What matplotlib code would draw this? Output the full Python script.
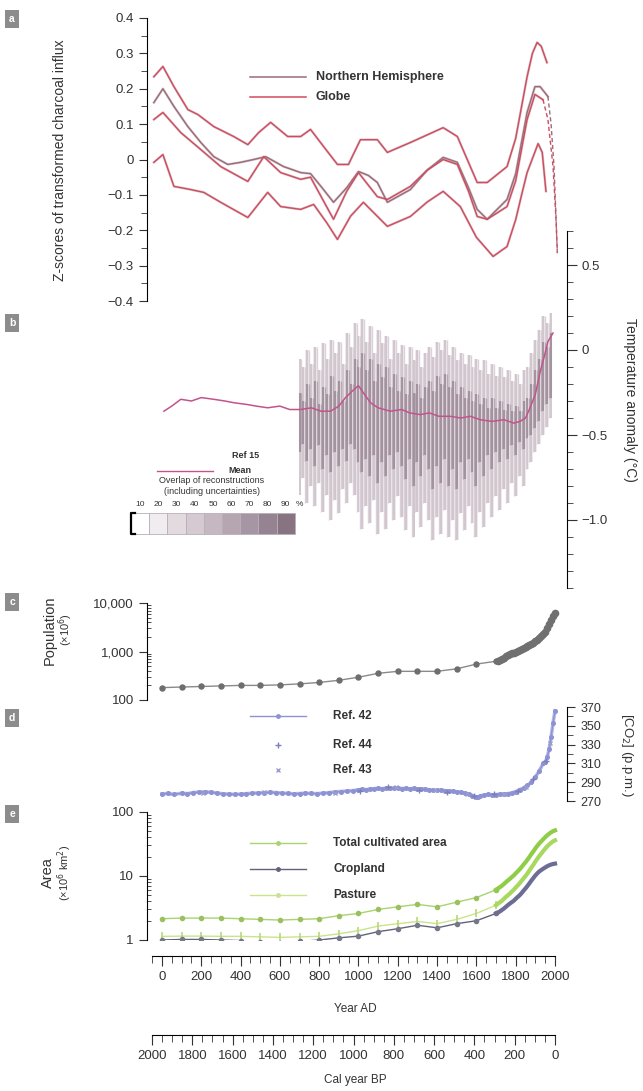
import numpy as np
import matplotlib
matplotlib.use("Agg")
import matplotlib.pyplot as plt
from matplotlib.lines import Line2D
from matplotlib.patches import Rectangle
from matplotlib.ticker import FixedLocator, FuncFormatter, LogLocator, NullFormatter, MultipleLocator

plt.rcParams["font.family"] = ["Liberation Sans Narrow", "Liberation Sans", "DejaVu Sans"]
plt.rcParams["axes.unicode_minus"] = True

W, H = 643, 1091
INK = "#333333"
RED, MAUVE = "#d4495c", "#9c6a78"
PINK = "#c2548c"
BLUE = "#8d92d4"
GREEN, LIME, SLATE = "#a9d46e", "#c9e48c", "#62627a"

# ---- a: charcoal influx z-scores ----
glob_hi_yr = [-41, 5, 61, 132, 183, 264, 365, 437, 492, 553, 640, 706, 756, 822, 893, 949, 1010, 1096,
              1147, 1264, 1431, 1503, 1604, 1655, 1756, 1800, 1830, 1858, 1885, 1909, 1930, 1959]
glob_hi = [0.234, 0.263, 0.206, 0.141, 0.127, 0.093, 0.065, 0.042, 0.076, 0.105, 0.065, 0.065, 0.085,
           0.037, -0.014, -0.014, 0.056, 0.056, 0.020, 0.048, 0.090, 0.065, -0.065, -0.065, -0.020,
           0.060, 0.150, 0.234, 0.300, 0.331, 0.320, 0.274]
nh_yr = [-41, 5, 61, 132, 198, 264, 335, 401, 467, 528, 619, 706, 756, 815, 873, 940, 1000, 1050, 1096,
         1147, 1264, 1350, 1431, 1503, 1560, 1604, 1655, 1756, 1800, 1830, 1858, 1898, 1924, 1964]
nh = [0.161, 0.200, 0.150, 0.093, 0.048, 0.008, -0.014, -0.008, 0.000, 0.008, -0.020, -0.037, -0.040,
      -0.080, -0.121, -0.080, -0.034, -0.045, -0.065, -0.121, -0.085, -0.030, 0.006, -0.008, -0.080,
      -0.141, -0.169, -0.113, -0.040, 0.050, 0.133, 0.206, 0.206, 0.178]
nh_tail_yr = [1964, 1980, 1995, 2005, 2012]
nh_tail = [0.178, 0.10, -0.02, -0.16, -0.27]
glob_yr = [-41, 5, 96, 198, 299, 437, 518, 604, 706, 756, 815, 873, 940, 1000, 1096, 1147, 1264, 1350,
           1431, 1503, 1560, 1604, 1655, 1756, 1800, 1830, 1858, 1898, 1939]
glob = [0.113, 0.133, 0.076, 0.028, -0.020, -0.062, 0.008, -0.037, -0.056, -0.050, -0.110, -0.169,
        -0.090, -0.037, -0.105, -0.113, -0.076, -0.030, 0.000, -0.014, -0.090, -0.161, -0.169, -0.133,
        -0.060, 0.030, 0.113, 0.184, 0.169]
glob_tail_yr = [1939, 1964, 1990, 2005, 2012]
glob_tail = [0.169, 0.113, -0.02, -0.17, -0.263]
glob_lo_yr = [-41, 5, 61, 147, 213, 299, 437, 538, 604, 706, 772, 840, 893, 960, 1025, 1147, 1264, 1350,
              1431, 1518, 1600, 1685, 1756, 1800, 1830, 1858, 1914, 1935, 1954]
glob_lo = [-0.008, 0.014, -0.076, -0.085, -0.093, -0.121, -0.164, -0.093, -0.133, -0.141, -0.127,
           -0.180, -0.226, -0.160, -0.121, -0.189, -0.161, -0.120, -0.090, -0.133, -0.220, -0.274,
           -0.246, -0.170, -0.100, -0.037, 0.045, 0.020, -0.090]

# ---- b: temperature anomaly ----
mean_yr = [10, 50, 96, 150, 200, 264, 320, 365, 430, 480, 538, 600, 650, 706, 760, 810, 858, 900, 934,
           970, 1000, 1030, 1061, 1100, 1162, 1220, 1260, 1315, 1360, 1410, 1467, 1520, 1570, 1619, 1680,
           1740, 1790, 1822, 1850, 1873, 1900, 1924, 1945, 1964, 1990]
mean_t = [-0.36, -0.33, -0.29, -0.30, -0.28, -0.29, -0.30, -0.31, -0.32, -0.33, -0.34, -0.33, -0.35,
          -0.35, -0.34, -0.36, -0.36, -0.33, -0.28, -0.24, -0.21, -0.26, -0.31, -0.34, -0.36, -0.35,
          -0.37, -0.38, -0.37, -0.39, -0.39, -0.40, -0.39, -0.41, -0.42, -0.41, -0.43, -0.42, -0.40,
          -0.34, -0.26, -0.13, -0.04, 0.05, 0.10]
ov_yr = list(range(700, 1981, 20))
ov_hi10 = [-0.05, -0.10, 0.00, -0.08, 0.02, -0.12, 0.04, -0.05, 0.06, -0.02, 0.05, -0.08, 0.10, 0.02,
           0.16, 0.08, 0.18, 0.05, 0.14, -0.02, 0.12, 0.04, 0.08, -0.05, 0.06, -0.02, 0.03, -0.08, 0.02,
           -0.06, 0.00, -0.10, -0.02, 0.02, -0.04, 0.05, 0.00, 0.06, -0.03, 0.02, -0.06, -0.02, -0.08,
           -0.03, -0.10, -0.05, -0.12, -0.06, -0.14, -0.08, -0.15, -0.10, -0.16, -0.12, -0.18, -0.14,
           -0.20, -0.12, -0.10, -0.02, 0.06, 0.12, 0.20, 0.16, 0.22]
ov_lo10 = [-0.85, -0.75, -0.90, -0.80, -0.92, -0.78, -0.95, -0.85, -1.00, -0.88, -0.96, -0.82, -0.90,
           -0.78, -0.85, -0.95, -1.05, -0.92, -1.02, -0.88, -1.08, -0.95, -1.05, -0.90, -1.00, -0.86,
           -0.98, -1.06, -0.92, -1.10, -0.95, -1.04, -0.90, -1.00, -1.12, -0.98, -1.08, -0.94, -1.10,
           -1.00, -1.12, -0.96, -1.06, -0.92, -1.02, -1.10, -0.95, -1.04, -0.90, -0.98, -0.86, -0.94,
           -0.82, -0.90, -0.78, -0.86, -0.74, -0.80, -0.70, -0.66, -0.60, -0.55, -0.50, -0.45, -0.40]
ov_hi50 = [-0.25, -0.30, -0.20, -0.28, -0.18, -0.32, -0.22, -0.26, -0.15, -0.24, -0.18, -0.30, -0.12,
           -0.20, -0.05, -0.10, -0.02, -0.12, -0.05, -0.18, -0.08, -0.16, -0.10, -0.22, -0.14, -0.24,
           -0.16, -0.26, -0.18, -0.25, -0.20, -0.28, -0.22, -0.18, -0.24, -0.15, -0.20, -0.14, -0.22,
           -0.18, -0.26, -0.22, -0.28, -0.24, -0.30, -0.26, -0.32, -0.28, -0.34, -0.28, -0.34, -0.30,
           -0.35, -0.32, -0.36, -0.33, -0.36, -0.30, -0.28, -0.20, -0.12, -0.05, 0.05, 0.02, 0.10]
ov_lo50 = [-0.60, -0.55, -0.65, -0.58, -0.68, -0.56, -0.70, -0.62, -0.72, -0.60, -0.68, -0.58, -0.65,
           -0.55, -0.58, -0.66, -0.72, -0.64, -0.74, -0.62, -0.78, -0.66, -0.74, -0.62, -0.70, -0.60,
           -0.68, -0.76, -0.64, -0.80, -0.66, -0.74, -0.62, -0.70, -0.82, -0.68, -0.78, -0.64, -0.80,
           -0.70, -0.82, -0.66, -0.76, -0.64, -0.72, -0.80, -0.66, -0.74, -0.62, -0.70, -0.60, -0.66,
           -0.58, -0.64, -0.56, -0.62, -0.54, -0.58, -0.52, -0.50, -0.46, -0.42, -0.36, -0.32, -0.28]
overlap_pct = [10, 20, 30, 40, 50, 60, 70, 80, 90]
overlap_col = ["#ffffff", "#f1ecef", "#e3dae0", "#d5cad2", "#c6b8c2", "#b6a6b2", "#a695a2",
               "#968391", "#877381"]

# ---- c: population (millions) ----
pop_yr = [0, 100, 200, 300, 400, 500, 600, 700, 800, 900, 1000, 1100, 1200, 1300, 1400, 1500, 1600, 1700]
pop = [180, 185, 190, 195, 200, 200, 205, 215, 230, 255, 295, 355, 390, 390, 390, 440, 550, 630]
pop_recent_yr = list(range(1710, 2001, 10))
pop_recent = [650, 680, 710, 750, 790, 830, 870, 910, 950, 990, 1040, 1090, 1140, 1200, 1260, 1320,
              1380, 1450, 1530, 1650, 1750, 1860, 2070, 2300, 2520, 3020, 3700, 4440, 5310, 6100]

# ---- d: CO2 (p.p.m.) ----
co2_yr = [0, 30, 60, 100, 130, 160, 190, 220, 250, 280, 310, 340, 370, 400, 430, 460, 490, 520, 550,
          580, 610, 640, 670, 700, 730, 760, 790, 820, 850, 880, 910, 940, 970, 1000, 1020, 1040, 1060,
          1080, 1100, 1120, 1140, 1160, 1180, 1200, 1220, 1240, 1260, 1280, 1300, 1320, 1340, 1360,
          1380, 1400, 1420, 1440, 1460, 1480, 1500, 1520, 1540, 1560, 1580, 1600, 1610, 1620, 1640,
          1660, 1680, 1700, 1720, 1740, 1760, 1780, 1800, 1820, 1840, 1860, 1880, 1900, 1920, 1940,
          1950, 1960, 1970, 1980, 1990, 2000]
co2 = [277.5, 278.0, 277.0, 278.2, 277.8, 279.0, 279.5, 279.8, 279.2, 278.5, 277.6, 277.4, 277.0,
       277.3, 277.8, 278.2, 278.6, 278.9, 279.2, 279.0, 278.4, 278.0, 277.6, 277.9, 278.3, 278.0,
       277.8, 278.4, 278.9, 279.6, 280.1, 280.6, 281.0, 281.8, 282.4, 282.0, 282.9, 283.1, 283.5,
       283.0, 283.6, 284.0, 283.4, 283.8, 283.2, 283.6, 282.9, 283.4, 282.8, 283.0, 282.4, 282.0,
       281.5, 281.2, 281.8, 280.9, 280.2, 280.6, 279.8, 279.4, 278.2, 277.0, 275.8, 274.5, 273.8,
       275.6, 276.2, 277.0, 276.6, 276.8, 277.4, 277.2, 277.8, 278.6, 280.0, 282.0, 284.0, 286.5,
       290.0, 295.5, 302.0, 310.0, 311.0, 316.5, 325.0, 338.0, 353.0, 366.0]
co2_r44_yr = [1010, 1150, 1310, 1450, 1590, 1690, 1810, 1890, 1955]
co2_r44 = [281.0, 284.5, 282.0, 280.0, 275.0, 277.5, 281.0, 293.0, 313.0]
co2_r43_yr = [210, 520, 880, 1190, 1390, 1550, 1740, 1850, 1975]
co2_r43 = [279.0, 279.5, 279.0, 284.5, 281.5, 277.5, 277.0, 285.0, 332.0]

# ---- e: cultivated area (10^6 km2) ----
area_yr = [0, 100, 200, 300, 400, 500, 600, 700, 800, 900, 1000, 1100, 1200, 1300, 1400, 1500, 1600, 1700]
total_area = [2.15, 2.2, 2.2, 2.2, 2.15, 2.1, 2.05, 2.1, 2.15, 2.4, 2.6, 3.0, 3.3, 3.6, 3.3, 3.9, 4.6, 6.1]
crop_area = [1.0, 1.02, 1.02, 1.0, 0.98, 0.94, 0.9, 0.95, 1.0, 1.08, 1.15, 1.35, 1.5, 1.7, 1.55, 1.8, 2.0,
             2.6]
pasture_area = [1.14, 1.15, 1.15, 1.14, 1.14, 1.12, 1.1, 1.12, 1.14, 1.25, 1.4, 1.65, 1.8, 1.95, 1.8,
                2.1, 2.6, 3.5]
area_recent_yr = list(range(1700, 2001, 10))
total_recent = [6.1, 6.4, 6.7, 7.05, 7.5, 8.0, 8.5, 9.0, 9.6, 10.2, 11.0, 11.8, 12.7, 13.8, 15.1, 16.4,
                18.0, 19.9, 22.1, 24.3, 27.0, 29.6, 32.3, 34.8, 37.5, 40.4, 43.2, 45.7, 48.1, 50.2, 51.6]
crop_recent = [2.6, 2.7, 2.8, 2.95, 3.1, 3.3, 3.5, 3.7, 3.9, 4.1, 4.4, 4.7, 5.0, 5.4, 5.9, 6.4, 7.0, 7.7,
               8.5, 9.3, 10.2, 11.0, 11.8, 12.4, 13.0, 13.6, 14.2, 14.7, 15.1, 15.4, 15.6]
pasture_recent = [3.5, 3.7, 3.9, 4.1, 4.4, 4.7, 5.0, 5.3, 5.7, 6.1, 6.6, 7.1, 7.7, 8.4, 9.2, 10.0, 11.0,
                  12.2, 13.6, 15.0, 16.8, 18.6, 20.5, 22.4, 24.5, 26.8, 29.0, 31.0, 33.0, 34.8, 36.0]

XLIM = (-76, 2061)


def add_ax(x0, y0, x1, y1):
    ax = fig.add_axes([x0 / W, 1 - y1 / H, (x1 - x0) / W, (y1 - y0) / H])
    ax.set_xlim(*XLIM)
    ax.patch.set_alpha(0)
    for s in ax.spines.values():
        s.set_visible(False)
    ax.set_xticks([])
    return ax


def ftext(px, py, s, **kw):
    kw.setdefault("color", INK)
    kw.setdefault("fontsize", 9)
    fig.text(px / W, 1 - py / H, s, **kw)


def fline(x0, x1, py, color, lw=1.0, marker=None, ms=3, ls="-"):
    fig.add_artist(Line2D([x0 / W, x1 / W], [1 - py / H, 1 - py / H], color=color, lw=lw, ls=ls))
    if marker:
        xm = (x0 + x1) / 2
        fig.add_artist(Line2D([xm / W], [1 - py / H], color=color, marker=marker, ms=ms, lw=0))


def panel_tag(py, letter):
    ftext(12, py, letter, color="white", fontsize=7.5, fontweight="bold", ha="center", va="center",
          bbox=dict(boxstyle="square,pad=0.4", fc="#8c8c8c", ec="none"))


def zero_fmt(v, _):
    return "0" if abs(v) < 1e-9 else f"{v:.1f}".replace("-", "\u2212")


fig = plt.figure(figsize=(W / 100, H / 100), dpi=100)
fig.patch.set_facecolor("white")

# a
ax_a = add_ax(147, 18, 567, 301)
ax_a.set_ylim(-0.4, 0.4)
ax_a.spines["left"].set_visible(True)
ax_a.yaxis.set_major_locator(MultipleLocator(0.1))
ax_a.yaxis.set_minor_locator(MultipleLocator(0.05))
ax_a.yaxis.set_major_formatter(FuncFormatter(zero_fmt))
ax_a.tick_params(axis="y", which="major", length=6, labelsize=9.5, colors=INK)
ax_a.tick_params(axis="y", which="minor", length=4, colors=INK)
for yr, v, c in [(glob_hi_yr, glob_hi, RED), (nh_yr, nh, MAUVE), (glob_yr, glob, RED), (glob_lo_yr, glob_lo, RED)]:
    ax_a.plot(yr, v, color="#a08a92", lw=1.8, alpha=0.45)
    ax_a.plot(yr, v, color=c, lw=1.0)
ax_a.plot(nh_tail_yr, nh_tail, color=MAUVE, lw=1.0, ls=(0, (3, 2)))
ax_a.plot(glob_tail_yr, glob_tail, color=RED, lw=1.0, ls=(0, (3, 2)))
ftext(60, 160, "Z-scores of transformed charcoal influx", rotation=90, ha="center", va="center", fontsize=10)
fline(250, 306, 77, MAUVE, lw=1.1)
fline(250, 306, 97, RED, lw=1.1)
ftext(316, 77, "Northern Hemisphere", va="center", fontweight="bold", fontsize=9)
ftext(316, 97, "Globe", va="center", fontweight="bold", fontsize=9)
panel_tag(19, "a")

# b
ax_b = add_ax(147, 231, 567, 588)
ax_b.set_ylim(-1.4, 0.7)
ax_b.spines["right"].set_visible(True)
ax_b.yaxis.tick_right()
ax_b.yaxis.set_major_locator(FixedLocator([0.5, 0.0, -0.5, -1.0]))
ax_b.yaxis.set_minor_locator(FixedLocator(np.round(np.arange(-1.4, 0.71, 0.1), 2)))
ax_b.yaxis.set_major_formatter(FuncFormatter(zero_fmt))
ax_b.tick_params(axis="y", which="major", length=7, labelsize=9.5, colors=INK)
ax_b.tick_params(axis="y", which="minor", length=4, colors=INK)
# overlap of reconstructions: faint envelope, then streaks for the 10 % and 50 % levels
ax_b.fill_between(ov_yr, ov_lo10, ov_hi10, step="mid", color="#efe9ed", lw=0)
ax_b.vlines(ov_yr, ov_lo10, ov_hi10, color="#cbbfc8", lw=1.3, alpha=0.9)
ax_b.vlines([y + 10 for y in ov_yr[:-1]], ov_lo10[1:], ov_hi10[:-1], color="#d8ced5", lw=1.0, alpha=0.9)
ax_b.vlines(ov_yr, ov_lo50, ov_hi50, color="#948290", lw=1.5, alpha=0.75)
ax_b.vlines([y + 10 for y in ov_yr[:-1]], ov_lo50[1:], ov_hi50[:-1], color="#a997a4", lw=1.0, alpha=0.7)
ax_b.plot(mean_yr, mean_t, color=PINK, lw=1.1)
ftext(630, 400, "Temperature anomaly (\u00b0C)", rotation=270, ha="center", va="center", fontsize=10)
ftext(232, 455, "Ref 15", va="center", fontweight="bold", fontsize=6.5)
fline(157, 213, 471, PINK, lw=1.0)
ftext(228, 470, "Mean", va="center", fontweight="bold", fontsize=6.5)
ftext(212, 481, "Overlap of reconstructions", ha="center", va="center", fontsize=6.5)
ftext(212, 491, "(including uncertainties)", ha="center", va="center", fontsize=6.5)
bx0, bw, by0, bh = 131, 18.2, 513, 21
for i, (p, c) in enumerate(zip(overlap_pct, overlap_col)):
    fig.add_artist(Rectangle(((bx0 + i * bw) / W, 1 - (by0 + bh) / H), bw / W, bh / H,
                             transform=fig.transFigure, fc=c, ec="#b8b0b6", lw=0.6))
    ftext(bx0 + (i + 0.5) * bw, 504, str(p), ha="center", va="center", fontsize=6)
ftext(bx0 + 9 * bw + 1, 504, "%", ha="left", va="center", fontsize=6)
fig.add_artist(Line2D([(bx0 + 4) / W, bx0 / W, bx0 / W, (bx0 + 4) / W],
                      [1 - by0 / H, 1 - by0 / H, 1 - (by0 + bh) / H, 1 - (by0 + bh) / H],
                      color="black", lw=1.6))
panel_tag(323, "b")

# c
ax_c = add_ax(147, 603, 567, 700)
ax_c.set_yscale("log")
ax_c.set_ylim(100, 10000)
ax_c.spines["left"].set_visible(True)
ax_c.yaxis.set_major_locator(FixedLocator([100, 1000, 10000]))
ax_c.yaxis.set_major_formatter(FuncFormatter(lambda v, _: f"{int(v):,}"))
ax_c.yaxis.set_minor_locator(LogLocator(base=10, subs=np.arange(2, 10)))
ax_c.yaxis.set_minor_formatter(NullFormatter())
ax_c.tick_params(axis="y", which="major", length=6, labelsize=9.5, colors=INK)
ax_c.tick_params(axis="y", which="minor", length=3, direction="in", colors=INK)
ax_c.plot(pop_yr, pop, color="#8a8a8a", lw=1.0, marker="o", ms=3.6, mfc="#6e6e6e", mec="#6e6e6e")
ax_c.plot(pop_recent_yr, pop_recent, color="#7a7a7a", lw=1.0, marker="o", ms=4.5, mfc="#707070",
          mec="#707070")
ftext(50, 630, "Population", rotation=90, ha="center", va="center", fontsize=10.5)
ftext(66, 630, "(\u00d710$^6$)", rotation=90, ha="center", va="center", fontsize=8)
panel_tag(602, "c")

# d
ax_d = add_ax(147, 707, 567, 801)
ax_d.set_ylim(270, 370)
ax_d.spines["right"].set_visible(True)
ax_d.yaxis.tick_right()
ax_d.yaxis.set_major_locator(MultipleLocator(20, offset=10))
ax_d.yaxis.set_minor_locator(MultipleLocator(10))
ax_d.tick_params(axis="y", which="major", length=6, labelsize=9, colors=INK)
ax_d.tick_params(axis="y", which="minor", length=4, colors=INK)
ax_d.plot(co2_yr, co2, color="#a4a8e0", lw=2.6, alpha=0.8)
ax_d.plot(co2_yr, co2, color=BLUE, lw=1.0, marker="o", ms=2.6, mfc=BLUE, mec=BLUE)
ax_d.plot(co2_r44_yr, co2_r44, ls="none", marker="+", ms=4, color="#7d80b8")
ax_d.plot(co2_r43_yr, co2_r43, ls="none", marker="x", ms=3, color="#9a9ccc")
ftext(627, 755, "[CO$_2$] (p.p.m.)", rotation=270, ha="center", va="center", fontsize=9.5)
fline(250, 306, 716, BLUE, lw=1.0, marker="o", ms=2.5)
fig.add_artist(Line2D([278 / W], [1 - 745 / H], ls="none", marker="+", ms=4, color="#7d80b8"))
fig.add_artist(Line2D([278 / W], [1 - 770 / H], ls="none", marker="x", ms=3, color="#9a9ccc"))
ftext(333, 716, "Ref. 42", va="center", fontweight="bold", fontsize=8.5)
ftext(333, 745, "Ref. 44", va="center", fontweight="bold", fontsize=8.5)
ftext(333, 770, "Ref. 43", va="center", fontweight="bold", fontsize=8.5)
panel_tag(718, "d")

# e
ax_e = add_ax(147, 812, 567, 940)
ax_e.set_yscale("log")
ax_e.set_ylim(1, 100)
ax_e.spines["left"].set_visible(True)
ax_e.yaxis.set_major_locator(FixedLocator([1, 10, 100]))
ax_e.yaxis.set_major_formatter(FuncFormatter(lambda v, _: f"{int(v)}"))
ax_e.yaxis.set_minor_locator(LogLocator(base=10, subs=np.arange(2, 10)))
ax_e.yaxis.set_minor_formatter(NullFormatter())
ax_e.tick_params(axis="y", which="major", length=6, labelsize=9.5, colors=INK)
ax_e.tick_params(axis="y", which="minor", length=3, direction="in", colors=INK)
ax_e.plot(area_yr, total_area, color=GREEN, lw=1.0, marker="o", ms=3, mfc="#9cc060", mec="#9cc060")
ax_e.plot(area_yr, pasture_area, color=LIME, lw=1.0, marker="|", ms=6, mew=1.2, mec="#b8d878")
ax_e.plot(area_yr, crop_area, color=SLATE, lw=1.0, marker="o", ms=3, mfc="#77778a", mec="#77778a")
ax_e.plot(area_recent_yr, total_recent, color="#8fcc48", lw=3.0)
ax_e.plot(area_recent_yr, pasture_recent, color="#a8d860", lw=3.0)
ax_e.plot(area_recent_yr, crop_recent, color="#6c6c94", lw=3.0)
ftext(48, 873, "Area", rotation=90, ha="center", va="center", fontsize=10.5)
ftext(65, 873, "(\u00d710$^6$ km$^2$)", rotation=90, ha="center", va="center", fontsize=8)
fline(250, 306, 843, GREEN, lw=1.0, marker="o", ms=2.5)
fline(250, 306, 869, SLATE, lw=1.0, marker="o", ms=2.5)
fline(250, 306, 895, LIME, lw=1.0, marker="o", ms=2.5)
ftext(333, 843, "Total cultivated area", va="center", fontweight="bold", fontsize=8.5)
ftext(333, 869, "Cropland", va="center", fontweight="bold", fontsize=8.5)
ftext(333, 895, "Pasture", va="center", fontweight="bold", fontsize=8.5)
panel_tag(814, "e")

# shared year axes
ax_ad = add_ax(147, 955, 567, 956)
ax_ad.spines["bottom"].set_visible(True)
ax_ad.spines["bottom"].set_bounds(-50, 2000)
ax_ad.set_yticks([])
ax_ad.set_xticks(range(0, 2001, 200))
ax_ad.xaxis.set_minor_locator(FixedLocator(range(-50, 2001, 50)))
ax_ad.tick_params(axis="x", which="major", length=7, labelsize=9.5, colors=INK, pad=4)
ax_ad.tick_params(axis="x", which="minor", length=5, colors=INK)
ftext(355, 1009, "Year AD", ha="center", va="center", fontsize=8.5)

ax_bp = fig.add_axes([152 / W, 1 - 1035 / H, (555 - 152) / W, 1 / H])
ax_bp.set_xlim(2000, 0)
ax_bp.patch.set_alpha(0)
for s in ax_bp.spines.values():
    s.set_visible(False)
ax_bp.spines["bottom"].set_visible(True)
ax_bp.set_yticks([])
ax_bp.set_xticks(range(0, 2001, 200))
ax_bp.xaxis.set_minor_locator(FixedLocator(range(0, 2001, 50)))
ax_bp.tick_params(axis="x", which="major", length=7, labelsize=9.5, colors=INK, pad=4)
ax_bp.tick_params(axis="x", which="minor", length=5, colors=INK)
ftext(355, 1080, "Cal year BP", ha="center", va="center", fontsize=8.5)

fig.savefig("out.png", dpi=100, facecolor="white")
